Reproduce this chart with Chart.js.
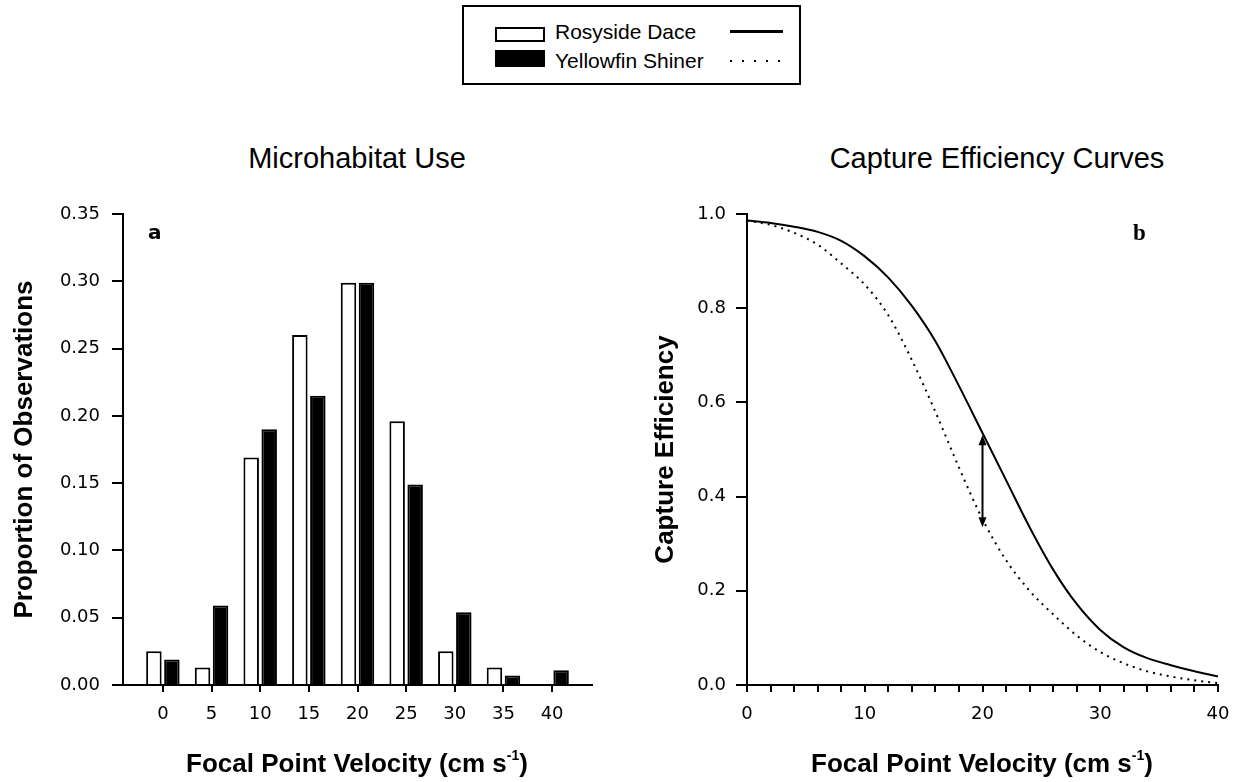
<!DOCTYPE html>
<html>
<head>
<meta charset="utf-8">
<script src="https://cdn.jsdelivr.net/npm/chart.js@4.4.1/dist/chart.umd.min.js"></script>
<style>
  body { margin: 0; background: #fff; width: 1237px; height: 782px; position: relative; overflow: hidden; color: #000; font-family: "Liberation Sans", Arial, sans-serif; }
  .abs { position: absolute; }
  .ptitle { font-family: "Liberation Sans", Arial, sans-serif; font-size: 29px; line-height: 30px; text-align: center; width: 500px; }
  .xtitle { font-family: "Liberation Sans", Arial, sans-serif; font-weight: bold; font-size: 26px; line-height: 30px; text-align: center; width: 500px; white-space: nowrap; }
  .xtitle sup { font-size: 14px; vertical-align: 12px; line-height: 0; }
  #legend { left: 462px; top: 5px; width: 335px; height: 76px; border: 2px solid #000; }
  #legend .txt { font-size: 21px; line-height: 24px; }
</style>
</head>
<body>

<div id="legend" class="abs">
  <div class="abs" style="left:31px; top:20px; width:50px; height:15px; border:2px solid #000; box-sizing:border-box; background:#fff;"></div>
  <div class="abs txt" style="left:91px; top:13px;">Rosyside Dace</div>
  <div class="abs" style="left:266px; top:23px; width:53px; height:3px; background:#000;"></div>
  <div class="abs" style="left:31px; top:43px; width:50px; height:17px; background:#000;"></div>
  <div class="abs txt" style="left:91px; top:42px;">Yellowfin Shiner</div>
  <div class="abs" style="left:266px; top:53px; width:53px; height:2px; background:repeating-linear-gradient(to right, #000 0 2px, transparent 2px 12px);"></div>
</div>

<div class="abs ptitle" style="left:107px; top:143px;">Microhabitat Use</div>
<div class="abs ptitle" style="left:747px; top:143px;">Capture Efficiency Curves</div>

<div class="abs" style="left:0; top:190px;"><canvas id="useChart" width="620" height="592"></canvas></div>
<div class="abs" style="left:620px; top:190px;"><canvas id="captureChart" width="617" height="592"></canvas></div>

<div class="abs" style="left:148px; top:220px; font-family:'DejaVu Sans', sans-serif; font-weight:bold; font-size:20px;">a</div>
<div class="abs" style="left:1133px; top:220px; font-family:'Liberation Serif', serif; font-weight:bold; font-size:23px;">b</div>

<div class="abs xtitle" style="left:107px; top:748px;">Focal Point Velocity (cm s<sup>-1</sup>)</div>
<div class="abs xtitle" style="left:732px; top:748px;">Focal Point Velocity (cm s<sup>-1</sup>)</div>

<script>
// panel a: microhabitat use (proportion of observations per velocity bin)
const velocityBins = [0, 5, 10, 15, 20, 25, 30, 35, 40];
const rosysideUse = [0.025, 0.013, 0.169, 0.260, 0.299, 0.196, 0.025, 0.013, null];
const yellowfinUse = [0.019, 0.059, 0.190, 0.215, 0.299, 0.149, 0.054, 0.007, 0.011];
const useYTicks = [0, 0.05, 0.10, 0.15, 0.20, 0.25, 0.30, 0.35];

// panel b: capture efficiency curves
const curveVelocity = [0, 2, 4, 6, 8, 10, 12, 14, 16, 18, 20, 22, 24, 26, 28, 30, 32, 34, 36, 38, 40];
const rosysideCapture = [0.986, 0.981, 0.973, 0.962, 0.943, 0.910, 0.865, 0.805, 0.730, 0.635, 0.535,
                         0.435, 0.335, 0.245, 0.172, 0.117, 0.080, 0.057, 0.042, 0.029, 0.018];
const yellowfinCapture = [0.986, 0.977, 0.960, 0.935, 0.895, 0.850, 0.785, 0.690, 0.580, 0.462, 0.352,
                          0.265, 0.200, 0.150, 0.105, 0.070, 0.046, 0.029, 0.018, 0.010, 0.004];
const captureXTicks = [0, 10, 20, 30, 40];

// double arrow at 20 cm/s between the two curves
const arrowAt = 20;
const arrowTop = 0.53;
const arrowBottom = 0.335;

const tickFont = { family: 'DejaVu Sans', size: 18 };
const axisTitleFont = { family: 'Liberation Sans', size: 26, weight: 'bold' };

// keep the plot area where the layout puts it (no extra room for end labels)
function noEndPadding(axis, height) {
    axis.height = height;
    axis.paddingLeft = 0;
    axis.paddingRight = 0;
}

const useChart = new Chart(document.getElementById('useChart'), {
    type: 'bar',
    data: {
        datasets: [{
            label: 'Rosyside Dace',
            data: velocityBins.map((v, i) => ({ x: v, y: rosysideUse[i] })),
            backgroundColor: '#fff',
            borderColor: '#000',
            borderWidth: 2,
            categoryPercentage: 0.74,
            barPercentage: 0.86
        }, {
            label: 'Yellowfin Shiner',
            data: velocityBins.map((v, i) => ({ x: v, y: yellowfinUse[i] })),
            backgroundColor: '#000',
            borderColor: '#000',
            borderWidth: 2,
            categoryPercentage: 0.74,
            barPercentage: 0.86
        }]
    },
    options: {
        responsive: false,
        animation: false,
        layout: { padding: { top: 24, right: 28, left: 0, bottom: 0 } },
        plugins: { legend: { display: false }, tooltip: { enabled: false } },
        scales: {
            x: {
                type: 'linear',
                offset: false,
                min: -4.1,
                max: 44.1,
                afterBuildTicks: (axis) => { axis.ticks = velocityBins.map(v => ({ value: v })); },
                afterFit: (axis) => noEndPadding(axis, 97),
                ticks: { font: tickFont, color: '#000', padding: 12, autoSkip: false, maxRotation: 0 },
                grid: { offset: false, drawOnChartArea: false, tickLength: 7, color: '#000', lineWidth: 2 },
                border: { display: true, color: '#000', width: 2 }
            },
            y: {
                min: 0,
                max: 0.35,
                afterBuildTicks: (axis) => { axis.ticks = useYTicks.map(v => ({ value: v })); },
                afterFit: (axis) => { axis.width = 123; },
                ticks: { font: tickFont, color: '#000', padding: 12, callback: (v) => Number(v).toFixed(2) },
                grid: { drawOnChartArea: false, tickLength: 11, color: '#000', lineWidth: 2 },
                border: { display: true, color: '#000', width: 2 },
                title: { display: true, text: 'Proportion of Observations', font: axisTitleFont, color: '#000', padding: { top: 9, bottom: 0 } }
            }
        }
    }
});

const arrowPlugin = {
    id: 'gapArrow',
    afterDatasetsDraw(chart) {
        const { ctx, scales: { x, y } } = chart;
        const px = x.getPixelForValue(arrowAt);
        const yTop = y.getPixelForValue(arrowTop);
        const yBot = y.getPixelForValue(arrowBottom);
        ctx.save();
        ctx.strokeStyle = '#000';
        ctx.fillStyle = '#000';
        ctx.lineWidth = 2;
        ctx.beginPath();
        ctx.moveTo(px, yTop + 4);
        ctx.lineTo(px, yBot - 4);
        ctx.stroke();
        ctx.beginPath();
        ctx.moveTo(px, yTop);
        ctx.lineTo(px - 4, yTop + 10);
        ctx.lineTo(px + 4, yTop + 10);
        ctx.closePath();
        ctx.fill();
        ctx.beginPath();
        ctx.moveTo(px, yBot);
        ctx.lineTo(px - 4, yBot - 10);
        ctx.lineTo(px + 4, yBot - 10);
        ctx.closePath();
        ctx.fill();
        ctx.restore();
    }
};

const captureChart = new Chart(document.getElementById('captureChart'), {
    type: 'line',
    data: {
        datasets: [{
            label: 'Rosyside Dace',
            data: curveVelocity.map((v, i) => ({ x: v, y: rosysideCapture[i] })),
            borderColor: '#000',
            borderWidth: 2,
            pointRadius: 0,
            cubicInterpolationMode: 'monotone'
        }, {
            label: 'Yellowfin Shiner',
            data: curveVelocity.map((v, i) => ({ x: v, y: yellowfinCapture[i] })),
            borderColor: '#000',
            borderWidth: 2,
            borderDash: [2, 5],
            pointRadius: 0,
            cubicInterpolationMode: 'monotone'
        }]
    },
    options: {
        responsive: false,
        animation: false,
        layout: { padding: { top: 24, right: 19, left: 0, bottom: 0 } },
        plugins: { legend: { display: false }, tooltip: { enabled: false } },
        scales: {
            x: {
                type: 'linear',
                min: 0,
                max: 40,
                ticks: {
                    stepSize: 2, font: tickFont, color: '#000', padding: 12,
                    autoSkip: false, maxRotation: 0, minRotation: 0,
                    callback: (v) => captureXTicks.includes(v) ? String(v) : ''
                },
                afterFit: (axis) => noEndPadding(axis, 97),
                grid: { drawOnChartArea: false, tickLength: 7, color: '#000', lineWidth: 2 },
                border: { display: true, color: '#000', width: 2 }
            },
            y: {
                min: 0,
                max: 1,
                ticks: { stepSize: 0.2, font: tickFont, color: '#000', padding: 10, callback: (v) => Number(v).toFixed(1) },
                afterFit: (axis) => { axis.width = 127; },
                grid: { drawOnChartArea: false, tickLength: 11, color: '#000', lineWidth: 2 },
                border: { display: true, color: '#000', width: 2 },
                title: { display: true, text: 'Capture Efficiency', font: axisTitleFont, color: '#000', padding: { top: 30, bottom: 0 } }
            }
        }
    },
    plugins: [arrowPlugin]
});
</script>
</body>
</html>
